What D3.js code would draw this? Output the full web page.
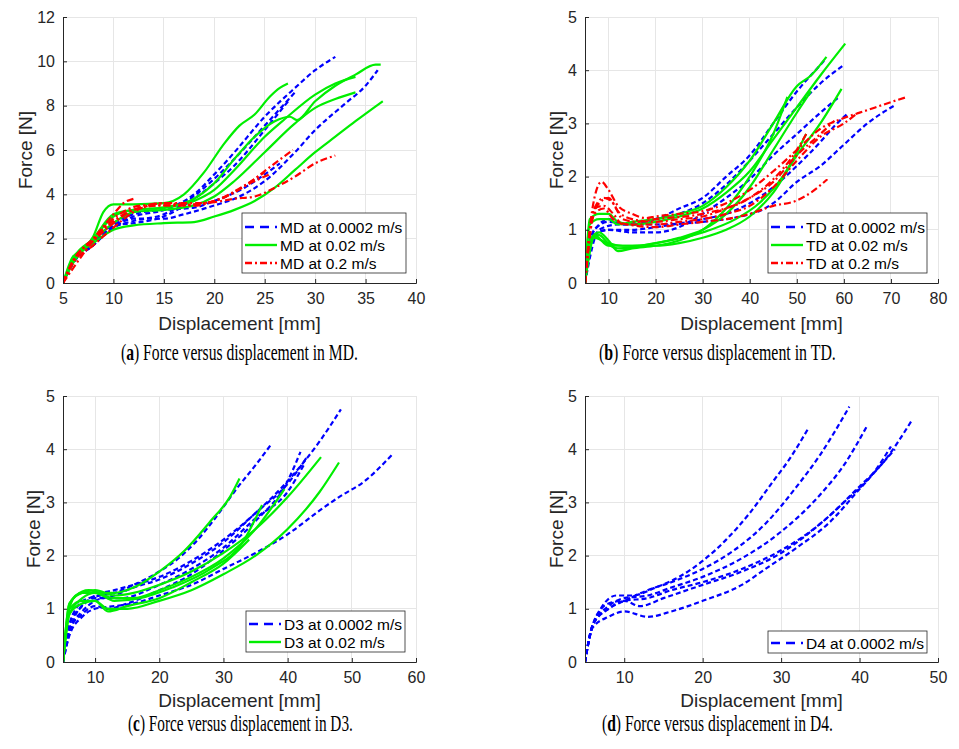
<!DOCTYPE html>
<html>
<head>
<meta charset="utf-8">
<script src="https://cdn.jsdelivr.net/npm/d3@7/dist/d3.min.js"></script>
<style>
  html, body { margin: 0; padding: 0; background: #fff; }
  svg { display: block; }
</style>
</head>
<body>
<svg id="fig" width="959" height="749"></svg>
<script>
// ---- Force [N] versus displacement [mm] test curves, one array per specimen direction and speed ----
const mdSlow = [
  [[5,0],[6,0.9],[8,1.7],[10,2.6],[12,3.0],[15,3.3],[18,4.0],[20,4.9],[22,5.9],[25,7.5],[28,8.8],[30,9.6],[32,10.2]],
  [[5,0],[6,1.0],[8,1.8],[10,2.5],[12,2.8],[15,3.1],[17,3.6],[20,4.7],[22,5.6],[24,6.6],[26,7.6],[28,8.6]],
  [[5,0],[6,1.0],[8,1.8],[10,2.6],[12,2.7],[15,3.0],[18,3.8],[20,4.5],[22,5.3],[25,6.9],[27.5,8.3]],
  [[5,0],[6,0.9],[8,1.7],[10,2.5],[12,2.9],[15,2.9],[17,3.1],[20,3.5],[22,3.8],[25,4.6],[28,5.9],[30,6.9],[33,8.1],[35,8.9],[36.2,9.6]],
  [[5,0],[6,0.9],[8,1.8],[10,2.7],[12,3.1],[15,3.3],[18,3.4],[20,3.7],[23,4.3],[25,4.9],[26.5,5.4]]
];
const mdMid = [
  [[5,0],[6,1.2],[7,1.5],[8,2.1],[9,3.2],[10,3.55],[12,3.55],[15,3.6],[17,4.0],[19,5.0],[21,6.3],[22.5,7.1],[24,7.6],[25.5,8.4],[26.5,8.8],[27.3,9.0]],
  [[5,0],[6,1.1],[8,2.0],[10,3.0],[12,3.3],[15,3.4],[18,3.8],[20,4.5],[22,5.6],[24,6.6],[26,7.3],[27.5,7.5],[28.2,7.35],[30,8.2],[32,8.9],[34,9.4],[36,9.85],[36.5,9.85]],
  [[5,0],[6,1.0],[8,2.0],[10,3.1],[12,3.3],[15,3.4],[18,3.7],[20,4.2],[22,5.1],[25,6.6],[27,7.4],[30,8.5],[32,9.0],[34,9.3]],
  [[5,0],[6,0.9],[8,1.9],[10,2.7],[12,3.2],[15,3.3],[18,3.5],[20,3.9],[22,4.6],[25,5.9],[28,7.2],[30,7.9],[32,8.3],[34,8.6]],
  [[5,0],[6,1.0],[8,1.8],[10,2.4],[12,2.6],[15,2.7],[18,2.75],[20,3.0],[22,3.3],[24,3.7],[26,4.3],[28,5.1],[30,5.9],[32,6.6],[34,7.3],[36.7,8.2]]
];
const mdFast = [
  [[5,0],[6,1.0],[8,2.0],[10,3.1],[11,3.6],[12,3.8]],
  [[5,0],[6,1.0],[8,2.0],[10,2.8],[12,3.3],[15,3.5],[18,3.5],[20,3.7],[22,4.1],[24,4.7],[26,5.4],[27.8,6.0]],
  [[5,0],[6,0.9],[8,1.7],[10,2.5],[12,3.2],[15,3.6],[18,3.6],[20,3.65],[22,3.8],[24,3.9],[26,4.3],[28,4.8],[30,5.4],[32,5.75]],
  [[5,0],[6,1.0],[8,1.9],[10,2.7],[12,3.3],[15,3.6],[18,3.5],[20,3.7],[23,4.4],[25,5.0]],
  [[5,0],[8,1.9],[10,2.9],[13,3.5],[16,3.5],[20,3.7],[24,4.6],[25.5,4.9]]
];

const tdSlow = [
  [[5,0],[6,0.8],[8,1.1],[10,1.2],[13,1.1],[16,1.15],[20,1.2],[25,1.4],[30,1.6],[35,2.0],[40,2.4],[45,3.0],[50,3.6],[55,4.1],[56,4.2]],
  [[5,0],[7,1.0],[10,1.15],[15,1.1],[20,1.2],[25,1.3],[30,1.5],[35,1.85],[40,2.3],[45,2.8],[50,3.3],[55,3.75],[60,4.1]],
  [[5,0],[7,0.9],[10,1.0],[15,0.95],[20,0.95],[25,1.05],[30,1.3],[35,1.6],[40,1.95],[45,2.4],[50,2.8],[55,3.2],[59,3.5]],
  [[5,0],[7,0.9],[10,1.0],[15,1.0],[20,1.05],[30,1.2],[35,1.3],[40,1.5],[45,1.8],[50,2.2],[55,2.65],[58,2.95],[61,3.2]],
  [[5,0],[8,1.0],[12,1.1],[20,1.1],[30,1.15],[38,1.25],[42,1.35],[45,1.5],[50,1.9],[55,2.2],[60,2.6],[65,3.0],[71,3.35]]
];
const tdMid = [
  [[5,0],[6,1.2],[8,1.3],[10,1.3],[12,1.15],[15,1.1],[20,1.15],[25,1.25],[30,1.4],[35,1.7],[40,2.1],[45,2.7],[50,3.3],[55,3.9],[60.3,4.5]],
  [[5,0],[6,1.1],[8,1.2],[10,1.2],[12,1.1],[15,1.15],[20,1.2],[25,1.3],[30,1.45],[35,1.8],[40,2.3],[45,3.0],[50,3.7],[53,3.9],[56.3,4.25]],
  [[5,0],[6,0.8],[8,0.95],[10,0.8],[12,0.6],[15,0.65],[20,0.7],[25,0.8],[30,1.0],[35,1.4],[40,2.0],[45,2.8],[48,3.5]],
  [[5,0],[6,0.8],[8,0.9],[10,0.75],[13,0.7],[20,0.7],[25,0.75],[30,0.85],[35,1.0],[40,1.25],[45,1.7],[50,2.4],[55,3.0],[59.5,3.65]],
  [[5,0],[7,0.9],[10,0.7],[15,0.7],[25,0.85],[30,1.0],[35,1.3],[40,1.8],[45,2.5],[50,3.2],[53,3.6]],
  [[5,0],[7,0.85],[12,0.65],[20,0.75],[30,0.95],[37,1.2],[42,1.5],[47,2.0],[52,2.8]]
];
const tdFast = [
  [[5,0],[6,1.0],[7,1.6],[8.5,1.9],[10,1.75],[12,1.45],[15,1.3],[18,1.22],[20,1.25],[25,1.3],[30,1.35],[35,1.5],[40,1.75],[45,2.1],[50,2.5],[55,2.9],[60,3.1],[65,3.25],[70,3.4],[73.5,3.5]],
  [[5,0],[6.5,1.2],[8,1.5],[10,1.6],[12,1.35],[15,1.2],[20,1.15],[25,1.2],[30,1.25],[35,1.4],[40,1.6],[45,1.9],[50,2.4],[55,2.8],[58,3.05]],
  [[5,0],[7,1.4],[9,1.45],[11,1.3],[13,1.1],[15,1.1],[20,1.1],[25,1.15],[30,1.2],[35,1.3],[40,1.45],[45,1.8],[50,2.3],[55,2.75],[60,3.0],[63,3.2]],
  [[5,0],[7,1.3],[9,1.4],[11,1.2],[14,1.1],[20,1.05],[25,1.1],[30,1.15],[35,1.2],[40,1.3],[45,1.45],[50,1.55],[53,1.7],[56.5,1.95]],
  [[5,0],[7,1.4],[9,1.6],[11,1.5],[13,1.2],[16,1.15],[20,1.2],[30,1.3],[40,1.6],[45,1.95],[50,2.5],[52,2.8]]
];

const d3Slow = [
  [[5,0],[6,0.7],[7,1.0],[9,1.2],[11,1.25],[13,1.3],[16,1.45],[20,1.7],[23,1.95],[26,2.3],[29,2.75],[32,3.25],[35,3.7],[37.5,4.1]],
  [[5,0],[6,0.7],[8,1.05],[10,1.25],[13,1.35],[16,1.45],[20,1.6],[25,1.9],[30,2.3],[35,2.8],[40,3.4],[45,4.15],[48.3,4.75]],
  [[5,0],[6,0.6],[8,0.9],[10,1.05],[12,1.0],[15,1.1],[20,1.35],[25,1.65],[30,2.1],[35,2.65],[40,3.4],[42,3.95]],
  [[5,0],[6,0.6],[8,0.95],[10,1.15],[13,1.25],[16,1.4],[20,1.55],[25,1.85],[30,2.25],[35,2.8],[40,3.35],[43,3.85]],
  [[5,0],[6,0.5],[8,0.85],[10,1.0],[13,1.05],[16,1.1],[20,1.25],[25,1.45],[30,1.75],[35,2.05],[40,2.4],[45,2.85],[48,3.1],[52,3.4],[56.3,3.9]],
  [[5,0],[7,0.9],[10,1.2],[14,1.2],[20,1.45],[25,1.75],[30,2.15],[35,2.7],[40,3.2],[42.5,3.7]]
];
const d3Mid = [
  [[5,0],[6,1.0],[7,1.25],[9,1.35],[11,1.3],[13,1.3],[16,1.4],[20,1.7],[24,2.1],[28,2.65],[31,3.1],[32.5,3.45]],
  [[5,0],[6,1.1],[8,1.3],[10,1.35],[13,1.25],[16,1.3],[20,1.45],[25,1.7],[30,2.05],[35,2.5],[40,3.1],[45.2,3.85]],
  [[5,0],[6,1.0],[8,1.15],[10,1.15],[12,1.0],[15,1.0],[20,1.15],[25,1.35],[30,1.65],[35,2.0],[40,2.5],[45,3.2],[48,3.75]],
  [[5,0],[6,1.1],[8,1.3],[10,1.3],[13,1.2],[16,1.2],[20,1.35],[25,1.6],[30,1.95],[35,2.5],[39.5,3.25]],
  [[5,0],[6,0.9],[8,1.2],[10,1.3],[13,1.15],[17,1.2],[22,1.4],[28,1.75],[33,2.25],[36,2.95]],
  [[5,0],[6,0.9],[8,1.1],[10,1.15],[12,0.95],[15,1.05],[20,1.2],[25,1.5],[30,1.85],[34,2.3]]
];

const d4Slow = [
  [[5,0],[5.5,0.4],[6,0.7],[7,1.0],[9,1.25],[11,1.25],[14,1.4],[17,1.6],[20,1.9],[23,2.3],[26,2.8],[29,3.4],[31,3.8],[33.5,4.4]],
  [[5,0],[6,0.7],[8,1.0],[10,1.15],[13,1.35],[16,1.5],[20,1.75],[24,2.1],[28,2.6],[32,3.3],[35,3.9],[38.7,4.8]],
  [[5,0],[6,0.7],[8,1.05],[10,1.2],[13,1.25],[16,1.4],[20,1.6],[25,1.95],[30,2.45],[35,3.15],[38,3.7],[41,4.45]],
  [[5,0],[6,0.7],[8,1.0],[10,1.15],[13,1.2],[16,1.35],[20,1.5],[25,1.75],[30,2.1],[35,2.6],[40,3.3],[43,3.75],[46.7,4.55]],
  [[5,0],[6,0.65],[8,0.85],[10,0.95],[13,0.85],[16,0.95],[20,1.15],[25,1.45],[28,1.75],[32,2.15],[36,2.6],[40,3.25],[44.5,4.0]],
  [[5,0],[6,0.7],[8,1.1],[10,1.15],[12,1.05],[15,1.2],[20,1.45],[25,1.7],[30,2.05],[35,2.6],[38,3.0],[42,3.6],[44,4.05]]
];

// ---- tick values ----
const mdXTicks = [5, 10, 15, 20, 25, 30, 35, 40];
const mdYTicks = [0, 2, 4, 6, 8, 10, 12];
const tdXTicks = [10, 20, 30, 40, 50, 60, 70, 80];
const d3XTicks = [10, 20, 30, 40, 50, 60];
const d4XTicks = [10, 20, 30, 40, 50];
const forceTicks = [0, 1, 2, 3, 4, 5];

// ---- legend entries and captions ----
const mdLegend = ["MD at 0.0002 m/s", "MD at 0.02 m/s", "MD at 0.2 m/s"];
const tdLegend = ["TD at 0.0002 m/s", "TD at 0.02 m/s", "TD at 0.2 m/s"];
const d3Legend = ["D3 at 0.0002 m/s", "D3 at 0.02 m/s"];
const d4Legend = ["D4 at 0.0002 m/s"];
const captionTags = ["a", "b", "c", "d"];
const captionTexts = [" Force versus displacement in MD.", " Force versus displacement in TD.",
                      " Force versus displacement in D3.", " Force versus displacement in D4."];

// ---- line styles per speed ----
const styles = [
  { color: "#0000ff", dash: "5,3" },     // 0.0002 m/s
  { color: "#00ee00", dash: null },      // 0.02 m/s
  { color: "#ff0000", dash: "7,3,2,3" }  // 0.2 m/s
];

const panels = [
  { x0: 63,  y0: 17,  w: 353, h: 266, xd: [5, 40], yd: [0, 12], xt: mdXTicks, yt: mdYTicks,
    series: [mdSlow, mdMid, mdFast], legend: mdLegend, ylabX: 25, xlabOff: 40,
    leg: { x: 242, y: 213, w: 164, h: 60, rows: [14, 32, 50] },
    cap: { x: 121, y: 360, len: 237 } },
  { x0: 585, y0: 17,  w: 353, h: 266, xd: [5, 80], yd: [0, 5], xt: tdXTicks, yt: forceTicks,
    series: [tdSlow, tdMid, tdFast], legend: tdLegend, ylabX: 556, xlabOff: 40,
    leg: { x: 768, y: 213, w: 159, h: 60, rows: [14, 32, 50] },
    cap: { x: 599, y: 360, len: 237 } },
  { x0: 63,  y0: 396, w: 353, h: 266, xd: [5, 60], yd: [0, 5], xt: d3XTicks, yt: forceTicks,
    series: [d3Slow, d3Mid], legend: d3Legend, ylabX: 33, xlabOff: 38,
    leg: { x: 246, y: 611, w: 159, h: 41, rows: [13, 31] },
    cap: { x: 128, y: 731, len: 225 } },
  { x0: 585, y0: 396, w: 353, h: 266, xd: [5, 50], yd: [0, 5], xt: d4XTicks, yt: forceTicks,
    series: [d4Slow], legend: d4Legend, ylabX: 556, xlabOff: 38,
    leg: { x: 768, y: 631, w: 159, h: 22, rows: [12] },
    cap: { x: 602, y: 731, len: 231 } }
];

const svg = d3.select("#fig");
const axisColor = "#262626";
const gridColor = "#e6e6e6";
const sans = "'Liberation Sans', Arial, Helvetica, sans-serif";
const serif = "'Liberation Serif', 'DejaVu Serif', serif";

panels.forEach((p, pi) => {
  const x = d3.scaleLinear().domain(p.xd).range([p.x0, p.x0 + p.w]);
  const y = d3.scaleLinear().domain(p.yd).range([p.y0 + p.h, p.y0]);
  const g = svg.append("g");

  // grid
  g.append("g").selectAll("line").data(Array.from(new Set(p.xt.concat([p.xd[1]]))))
    .join("line")
    .attr("x1", d => x(d)).attr("x2", d => x(d))
    .attr("y1", p.y0).attr("y2", p.y0 + p.h)
    .attr("stroke", gridColor).attr("stroke-width", 1).attr("shape-rendering", "crispEdges");
  g.append("g").selectAll("line").data(p.yt)
    .join("line")
    .attr("x1", p.x0).attr("x2", p.x0 + p.w)
    .attr("y1", d => y(d)).attr("y2", d => y(d))
    .attr("stroke", gridColor).attr("stroke-width", 1).attr("shape-rendering", "crispEdges");

  // curves
  const clipId = "clip" + pi;
  svg.append("clipPath").attr("id", clipId).append("rect")
    .attr("x", p.x0).attr("y", p.y0 - 2).attr("width", p.w + 2).attr("height", p.h + 2);
  const line = d3.line().x(d => x(d[0])).y(d => y(d[1])).curve(d3.curveMonotoneX);
  const cg = g.append("g").attr("clip-path", `url(#${clipId})`);
  p.series.forEach((set, si) => {
    const st = styles[si];
    cg.append("g").selectAll("path").data(set).join("path")
      .attr("d", line)
      .attr("fill", "none")
      .attr("stroke", st.color)
      .attr("stroke-width", 2.2)
      .attr("stroke-linejoin", "round")
      .attr("stroke-dasharray", st.dash);
  });

  // axes (left and bottom, inward ticks)
  const xAxis = d3.axisBottom(x).tickValues(p.xt).tickSize(-4).tickPadding(10).tickFormat(d3.format("d"));
  const yAxis = d3.axisLeft(y).tickValues(p.yt).tickSize(-4).tickPadding(8).tickFormat(d3.format("d"));
  const gx = g.append("g").attr("transform", `translate(0,${p.y0 + p.h})`).call(xAxis);
  const gy = g.append("g").attr("transform", `translate(${p.x0},0)`).call(yAxis);
  [gx, gy].forEach(a => {
    a.select(".domain").attr("stroke", axisColor).attr("stroke-width", 1);
    a.selectAll(".tick line").attr("stroke", axisColor);
    a.selectAll(".tick text").attr("fill", axisColor)
      .attr("font-family", sans).attr("font-size", "16px");
  });

  // axis labels
  g.append("text")
    .attr("x", p.x0 + p.w / 2).attr("y", p.y0 + p.h + p.xlabOff).attr("dy", "0.35em")
    .attr("text-anchor", "middle").attr("font-family", sans).attr("font-size", "19px")
    .attr("fill", axisColor).text("Displacement [mm]");
  g.append("text")
    .attr("transform", `translate(${p.ylabX},${p.y0 + p.h / 2}) rotate(-90)`)
    .attr("dy", "0.35em")
    .attr("text-anchor", "middle").attr("font-family", sans).attr("font-size", "19px")
    .attr("fill", axisColor).text("Force [N]");

  // legend
  const L = p.leg;
  const lg = g.append("g");
  lg.append("rect").attr("x", L.x).attr("y", L.y).attr("width", L.w).attr("height", L.h)
    .attr("fill", "#fff").attr("stroke", "#262626").attr("stroke-width", 0.8);
  p.legend.forEach((label, i) => {
    const ry = L.y + L.rows[i];
    const st = styles[i];
    lg.append("line").attr("x1", L.x + 3).attr("x2", L.x + 35).attr("y1", ry).attr("y2", ry)
      .attr("stroke", st.color).attr("stroke-width", 2.4)
      .attr("stroke-dasharray", i === 0 ? "9,6" : st.dash);
    lg.append("text").attr("x", L.x + 38).attr("y", ry).attr("dy", "0.36em")
      .attr("font-family", sans).attr("font-size", "15.5px").attr("fill", "#000").text(label);
  });

  // caption: "(" + bold tag + ")" + text, laid out piece by piece and condensed to the column width
  const capG = svg.append("g");
  const pieces = [
    { t: "(", bold: false },
    { t: captionTags[pi], bold: true },
    { t: ")" + captionTexts[pi], bold: false }
  ];
  let cursor = 0;
  pieces.forEach(pc => {
    const t = capG.append("text")
      .attr("x", cursor).attr("y", 0)
      .attr("font-family", serif).attr("font-size", "23px")
      .attr("font-weight", pc.bold ? "bold" : "normal")
      .attr("fill", "#000")
      .style("white-space", "pre")
      .attr("xml:space", "preserve")
      .text(pc.t);
    cursor += t.node().getComputedTextLength();
  });
  const sx = p.cap.len / cursor;
  capG.attr("transform", `translate(${p.cap.x},${p.cap.y}) scale(${sx},1)`);
});
</script>
</body>
</html>
